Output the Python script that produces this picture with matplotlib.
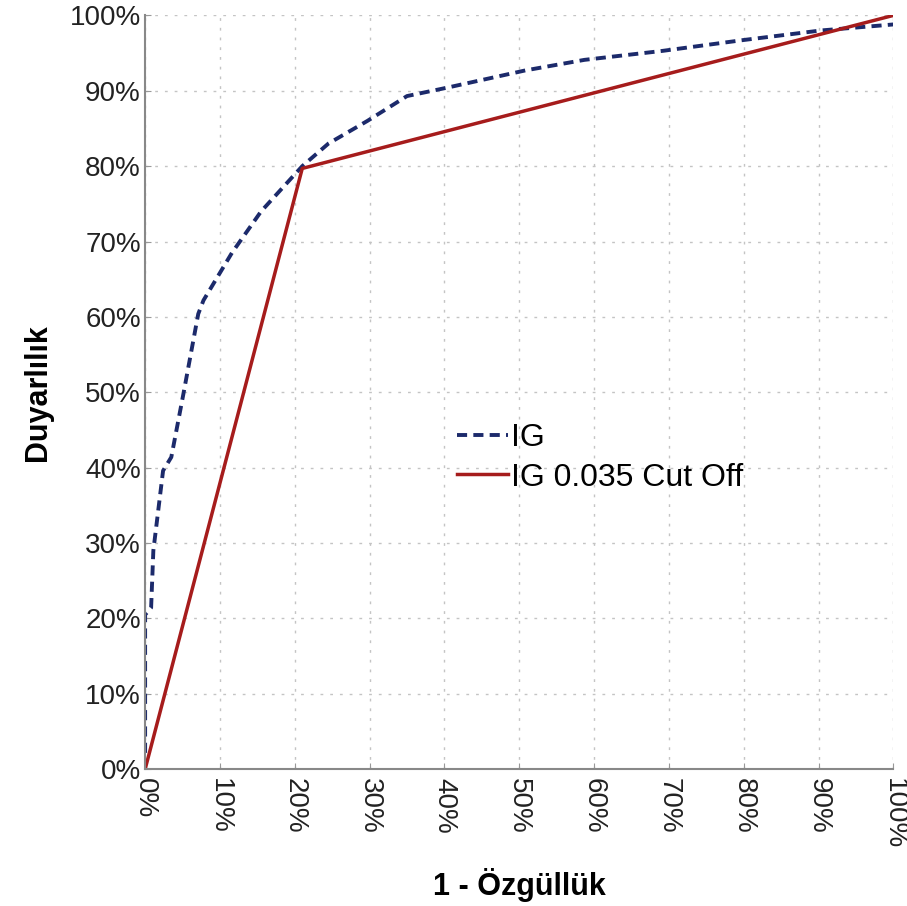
import matplotlib.pyplot as plt
from matplotlib.ticker import FuncFormatter

plt.rcParams['font.family'] = ['Liberation Sans', 'DejaVu Sans']

# IG ROC curve (1 - specificity, sensitivity) in percent
ig_x = [0, 0, 0.8, 1.1, 2.4, 3.5, 5.1, 7.1, 7.8, 11.6, 15.5, 21, 24.5, 29.7, 35, 40.3, 50.8, 58.7, 69.2, 79.7, 90.3, 100]
ig_y = [0, 20.5, 21.4, 29, 39.6, 41.4, 49.7, 60.4, 62.2, 68.5, 74, 80, 83, 86, 89.3, 90.4, 92.7, 94.1, 95.3, 96.7, 98, 98.8]

# IG 0.035 cut off
cut_x = [0, 21, 100]
cut_y = [0, 79.7, 100]

ticks = list(range(0, 101, 10))

fig = plt.figure(figsize=(9.07, 9.06), dpi=100)
ax = fig.add_axes([0.16, 0.151, 0.825, 0.832])

ax.plot(ig_x, ig_y, color='#1c2a6b', linewidth=2.8, linestyle=(0, (2.6, 1.6)), label='IG')
ax.plot(cut_x, cut_y, color='#a61c1c', linewidth=2.5, label='IG 0.035 Cut Off')

ax.set_xlim(0, 100)
ax.set_ylim(0, 100)
ax.set_xticks(ticks)
ax.set_yticks(ticks)
pct = FuncFormatter(lambda v, p: '%d%%' % v)
ax.xaxis.set_major_formatter(pct)
ax.yaxis.set_major_formatter(pct)

for lab in ax.get_xticklabels():
    lab.set_rotation(270)
ax.tick_params(axis='both', labelsize=20, labelcolor='#222222', color='#999999', length=4, direction='in', pad=3)
ax.tick_params(axis='x', pad=6)

ax.grid(True, color='#c4c4c4', linestyle=(0, (2, 5)), linewidth=1)
for s in ['top', 'right']:
    ax.spines[s].set_visible(False)
for s in ['left', 'bottom']:
    ax.spines[s].set_color('#888888')
    ax.spines[s].set_linewidth(1.5)

fig.text(0.573, 1 - 885 / 906, '1 - Özgüllük', fontsize=22, fontweight='bold',
         ha='center', va='center')
ax.set_ylabel('Duyarlılık', fontsize=22, fontweight='bold', labelpad=12)

ax.legend(loc='center left', bbox_to_anchor=(0.378, 0.413), frameon=False,
          fontsize=23, handlelength=1.6, handletextpad=0.1, labelspacing=0.3)

fig.savefig('out.png', dpi=100)
